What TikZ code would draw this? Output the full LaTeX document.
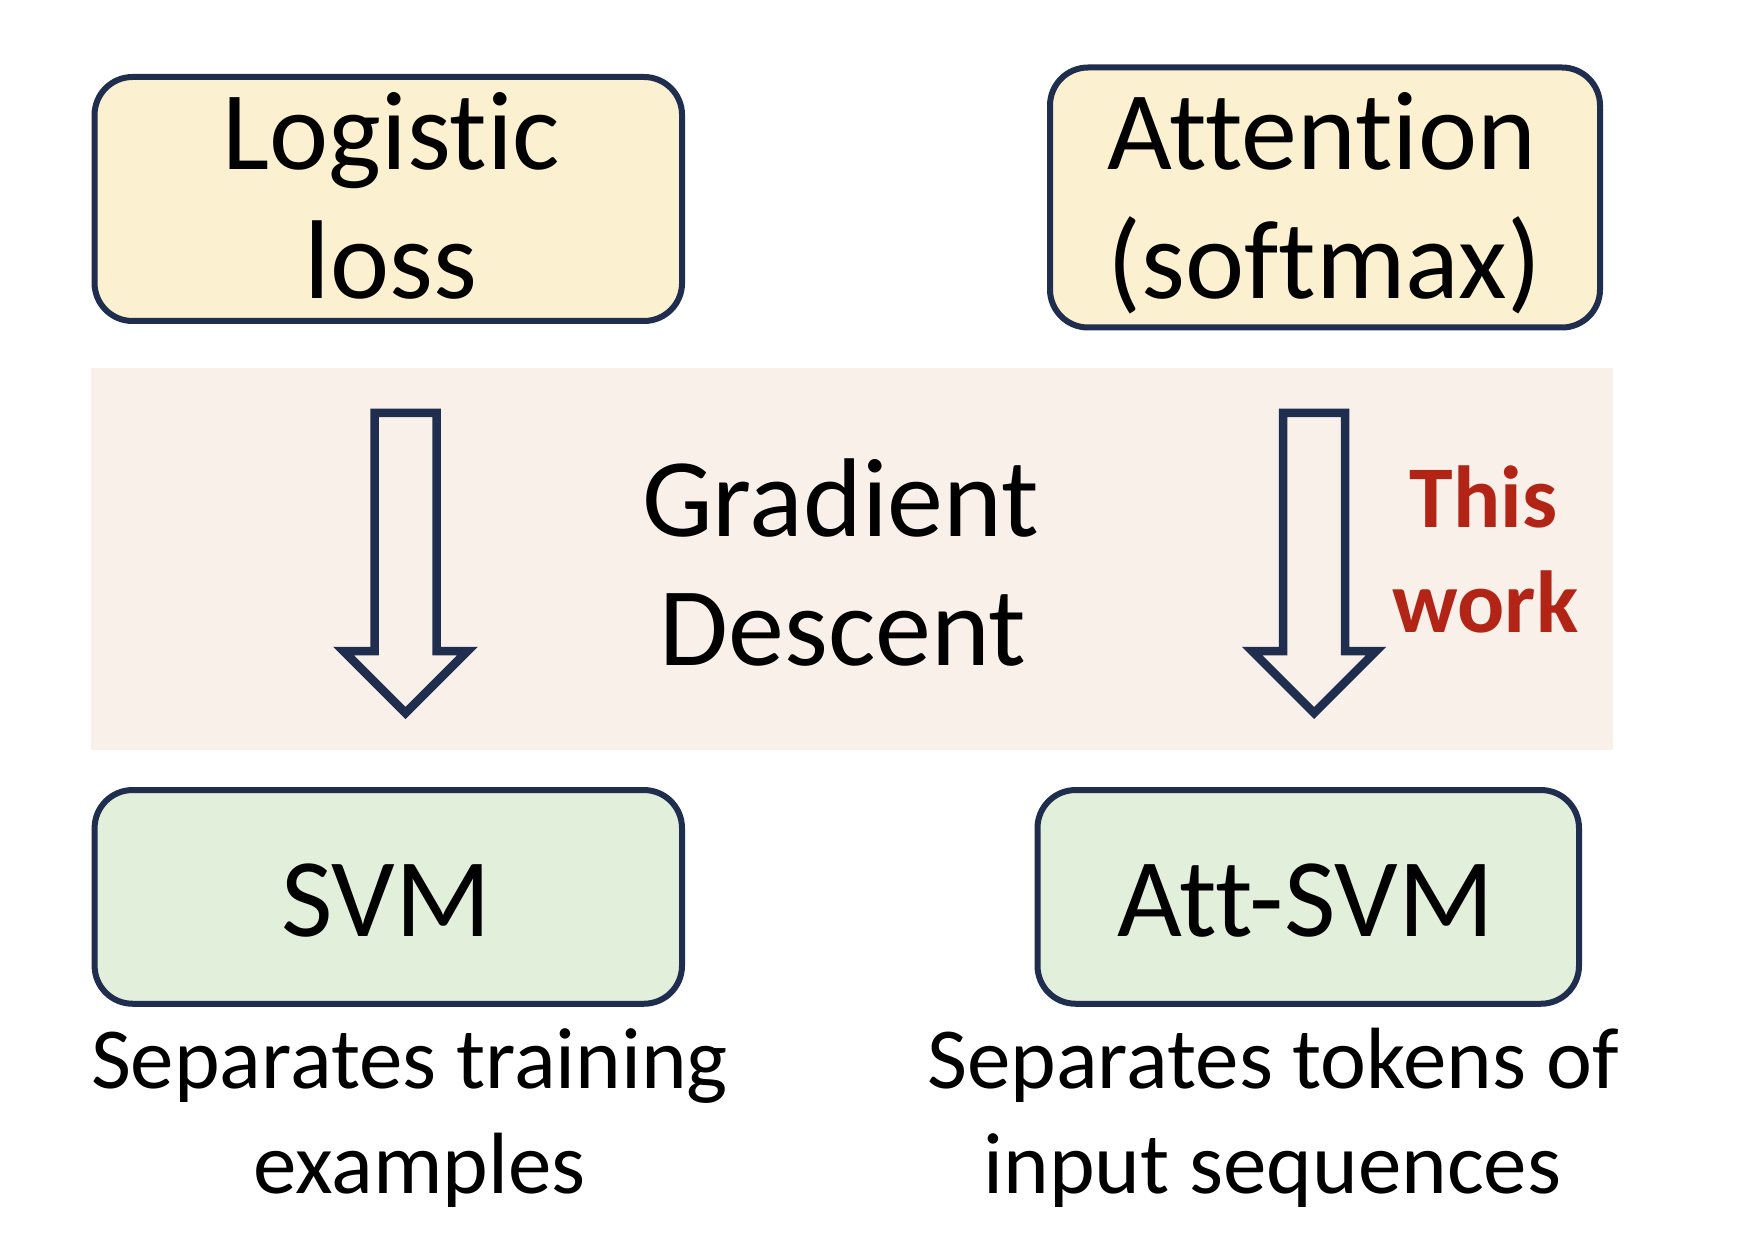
\documentclass[tikz,border=0pt]{standalone}
\usepackage{fontspec}
\setmainfont{Carlito}[Ligatures={NoCommon,NoRequired,NoContextual}]
\definecolor{navy}{RGB}{31,45,78}
\definecolor{boxyellow}{RGB}{251,240,208}
\definecolor{boxgreen}{RGB}{226,239,218}
\definecolor{bandpink}{RGB}{250,240,234}
\definecolor{workred}{RGB}{178,36,22}
\begin{document}
\begin{tikzpicture}[x=1pt,y=-1pt,
  box/.style={draw=navy, line width=6pt, rounded corners=38pt, inner sep=0pt},
  bigtxt/.style={font=\fontsize{112}{129}\selectfont, anchor=base, inner sep=0pt},
  midtxt/.style={font=\fontsize{87}{105}\selectfont, anchor=base, inner sep=0pt},
  redtxt/.style={font=\fontsize{88}{105}\selectfont\bfseries, text=workred, anchor=base, inner sep=0pt},
  blockarrow/.style={draw=navy, line width=8.5pt, miter limit=10}
]
\useasboundingbox (0,0) rectangle (1738,1238);
% band
\node[fill=bandpink, inner sep=0pt, minimum width=1522.5pt, minimum height=381.5pt] (band) at (851.75,558.75) {};
% boxes
\node[box, fill=boxyellow, minimum width=587.5pt, minimum height=244pt] (logistic) at (388.3,199) {};
\node[box, fill=boxyellow, minimum width=550pt, minimum height=260pt] (attention) at (1325,197.5) {};
\node[box, fill=boxgreen, minimum width=587.4pt, minimum height=213.7pt] (svm) at (388.3,896.9) {};
\node[box, fill=boxgreen, minimum width=541.5pt, minimum height=213.7pt] (attsvm) at (1308.25,896.9) {};
% arrows
\coordinate (arrL) at (405.5,413);
\coordinate (arrR) at (1314,413);
\foreach \c in {arrL,arrR}{
  \draw[blockarrow, shift={(\c)}] (-31,0) -- (31,0) -- (31,238) -- (62,238) -- (0,300) -- (-62,238) -- (-31,238) -- cycle;
}
% texts
\node[bigtxt] (tlog1) at (391.5,170) {Logistic};
\node[bigtxt] (tlog2) at (391,299) {loss};
\node[bigtxt] (tatt1) at (1322,170) {Attention};
\node[bigtxt] (tatt2) at (1324.5,299) {(softmax)};
\node[bigtxt] (tgd1) at (840.5,536) {Gradient};
\node[bigtxt] (tgd2) at (843,665) {Descent};
\node[redtxt] (tthis) at (1483.5,527) {This};
\node[redtxt] (twork) at (1485.5,632) {work};
\node[bigtxt] (tsvm) at (386,936) {SVM};
\node[bigtxt] (tattsvm) at (1306,936) {Att-SVM};
\node[midtxt] (sep1a) at (409.5,1088.5) {Separates training};
\node[midtxt] (sep1b) at (419.5,1193) {examples};
\node[midtxt] (sep2a) at (1273,1088.5) {Separates tokens of};
\node[midtxt] (sep2b) at (1272.5,1193) {input sequences};
\end{tikzpicture}
\end{document}
